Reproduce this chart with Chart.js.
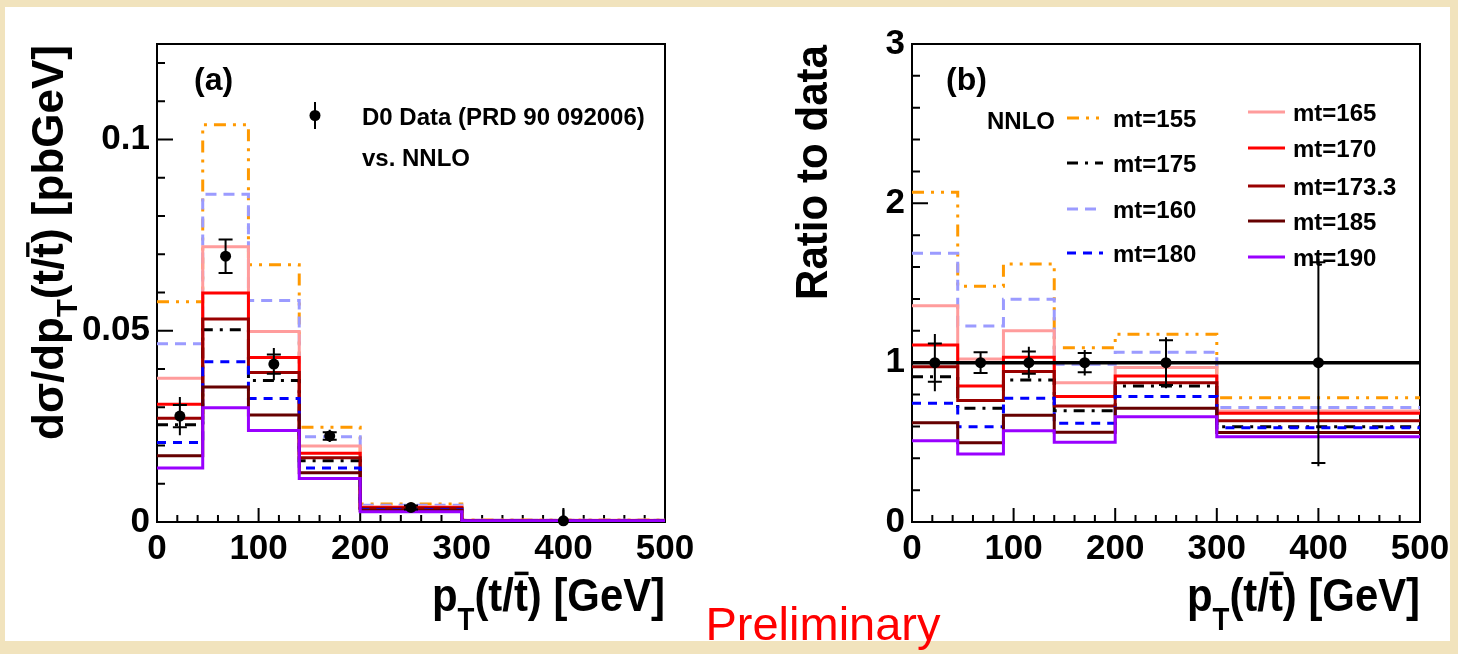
<!DOCTYPE html>
<html><head><meta charset="utf-8">
<script src="https://cdn.jsdelivr.net/npm/chart.js@4.4.1/dist/chart.umd.min.js"></script>
<style>
html,body{margin:0;padding:0;}
body{width:1458px;height:654px;background:#f1e3bd;position:relative;overflow:hidden;}
#panel{position:absolute;left:5px;top:7px;width:1445px;height:634px;background:#fff;}
canvas{position:absolute;left:0;top:0;}
</style></head><body>
<div id="panel"></div>
<canvas id="cA" width="1458" height="654"></canvas>
<canvas id="cB" width="1458" height="654"></canvas>
<script>
// ---------------- data ----------------
const binEdges = [0, 45, 90, 140, 200, 300, 500];
const dataCenters = [22.5, 67.5, 115, 170, 250, 400];

// panel (a): d sigma / dpT  [pb/GeV]
const dataXsec     = [0.0277, 0.0695, 0.0413, 0.0225, 0.0038, 0.0003];
const dataXsecStat = [0.0029, 0.0044, 0.0025, 0.0010, 0.0005, 0];
const dataXsecTot  = [0.0050, 0.0044, 0.0042, 0.0016, 0.0006, 0.0030];

const xsec155  = [0.0576, 0.1039, 0.0673, 0.0248, 0.0047, 0.00050];
const xsec160  = [0.0466, 0.0857, 0.0579, 0.0223, 0.0044, 0.00046];
const xsec165  = [0.0376, 0.0720, 0.0498, 0.0199, 0.0040, 0.00044];
const xsec170  = [0.0308, 0.0599, 0.0430, 0.0180, 0.0038, 0.00042];
const xsec1733 = [0.0271, 0.0531, 0.0391, 0.0168, 0.0036, 0.00040];
const xsec175  = [0.0254, 0.0503, 0.0370, 0.0160, 0.0035, 0.00038];
const xsec180  = [0.0208, 0.0419, 0.0323, 0.0141, 0.0032, 0.00036];
const xsec185  = [0.0173, 0.0353, 0.0280, 0.0129, 0.0030, 0.00034];
const xsec190  = [0.0141, 0.0299, 0.0239, 0.0114, 0.0027, 0.00032];

// panel (b): ratio to data
const dataRatio     = [1, 1, 1, 1, 1, 1];
const dataRatioStat = [0.12, 0.065, 0.07, 0.06, 0.14, 0.63];
const dataRatioTot  = [0.18, 0.065, 0.10, 0.08, 0.16, 0.65];

const ratio155  = [2.07, 1.48, 1.62, 1.094, 1.178, 0.780];
const ratio160  = [1.686, 1.23, 1.398, 0.99, 1.065, 0.718];
const ratio165  = [1.357, 1.023, 1.201, 0.874, 0.97, 0.697];
const ratio170  = [1.111, 0.854, 1.034, 0.787, 0.916, 0.682];
const ratio1733 = [0.975, 0.762, 0.944, 0.728, 0.874, 0.636];
const ratio175  = [0.912, 0.714, 0.891, 0.699, 0.854, 0.598];
const ratio180  = [0.745, 0.598, 0.776, 0.619, 0.787, 0.592];
const ratio185  = [0.623, 0.498, 0.670, 0.563, 0.714, 0.561];
const ratio190  = [0.510, 0.427, 0.573, 0.500, 0.661, 0.535];
const ratioRef  = [1, 1];
const ratioRefX = [0, 500];

const massLabels = ['mt=155','mt=160','mt=165','mt=170','mt=173.3','mt=175','mt=180','mt=185','mt=190'];

const xTickVals = [0, 100, 200, 300, 400, 500];
const xTickLabels = ['0','100','200','300','400','500'];
const yTickValsA = [0, 0.05, 0.1];
const yTickLabelsA = ['0','0.05','0.1'];
const yTickValsB = [0, 1, 2, 3];
const yTickLabelsB = ['0','1','2','3'];

// ---------------- styles ----------------
const FAM = '"Liberation Sans", Arial, Helvetica, sans-serif';
const massColors = ['#ff9900','#9b9bff','#ff9c9c','#ff0000','#990000','#000000','#0000ff','#660000','#9900ff'];
const massDashes = [[12,7,3,7,3,7],[11,7],[],[],[],[11,7,3,7],[9,7],[],[]];
// draw order: first = on top
const drawOrder = [8,7,6,4,5,3,2,1,0];

function stepPoints(vals){
  return binEdges.map((e,i)=>({x:e, y:vals[Math.min(i, vals.length-1)]}));
}

function histDatasets(series){
  return drawOrder.map(k=>({
    data: stepPoints(series[k]),
    borderColor: massColors[k],
    borderWidth: 3,
    borderDash: massDashes[k],
    borderCapStyle: 'butt',
    borderJoinStyle: 'miter',
    pointRadius: 0,
    stepped: true,
    fill: false
  }));
}

function dataDataset(vals){
  return {
    data: dataCenters.map((x,i)=>({x, y: vals[i]})),
    showLine: false,
    pointRadius: 5.5,
    pointBackgroundColor: '#000',
    pointBorderColor: '#000',
    pointBorderWidth: 0,
    clip: false
  };
}

// rich text: parts with subscripts and overbars
function layoutRich(ctx, parts, size){
  let x = 0; const items = [];
  for (const p of parts){
    const s = p.sub ? size*0.66 : size;
    ctx.font = `bold ${s}px ${FAM}`;
    const w = ctx.measureText(p.t).width;
    items.push(Object.assign({}, p, {s, x, w}));
    x += w;
  }
  return {items, width: x};
}
function drawRich(ctx, parts, size, ax, ay, targetW, rotate, subDrop){
  ctx.save();
  ctx.translate(ax, ay);
  if (rotate) ctx.rotate(-Math.PI/2);
  const r = layoutRich(ctx, parts, size);
  ctx.scale(targetW / r.width, 1);
  ctx.translate(-r.width, 0);
  ctx.fillStyle = '#000'; ctx.strokeStyle = '#000';
  ctx.textAlign = 'left'; ctx.textBaseline = 'alphabetic';
  for (const it of r.items){
    ctx.font = `bold ${it.s}px ${FAM}`;
    const dy = it.sub ? size*subDrop : 0;
    ctx.fillText(it.t, it.x, dy);
    if (it.bar){
      ctx.lineWidth = size*0.075;
      ctx.beginPath();
      ctx.moveTo(it.x + it.w*0.05, -size*0.80);
      ctx.lineTo(it.x + it.w*1.05, -size*0.80);
      ctx.stroke();
    }
  }
  ctx.restore();
}
const xTitleParts = [{t:'p'},{t:'T',sub:true},{t:'(t/'},{t:'t',bar:true},{t:') [GeV]'}];
const yTitlePartsA = [{t:'d\u03c3/dp'},{t:'T',sub:true},{t:'(t/'},{t:'t',bar:true},{t:') [pbGeV]'}];

function text(ctx, s, x, yc, size, opts){
  opts = opts || {};
  ctx.save();
  ctx.font = `${opts.weight||'bold'} ${size}px ${FAM}`;
  ctx.fillStyle = opts.color || '#000';
  ctx.textAlign = opts.align || 'left';
  ctx.textBaseline = 'alphabetic';
  ctx.fillText(s, x, yc + size*0.36);
  ctx.restore();
}

function sampleLine(ctx, k, x0, x1, y){
  ctx.save();
  ctx.strokeStyle = massColors[k];
  ctx.lineWidth = 3;
  ctx.setLineDash(massDashes[k]);
  ctx.beginPath(); ctx.moveTo(x0, y); ctx.lineTo(x1, y); ctx.stroke();
  ctx.restore();
}

// frame + inward ticks, error bars, decorations
function framePlugin(cfg){
  return {
    id: 'frame_' + cfg.id,
    beforeDatasetsDraw(chart){
      const {ctx, chartArea: a, scales:{x, y}} = chart;
      ctx.save();
      ctx.strokeStyle = '#000'; ctx.lineWidth = 2;
      ctx.strokeRect(a.left, a.top, a.right - a.left, a.bottom - a.top);
      ctx.beginPath();
      for (let v = 0; v <= 500 + 1e-9; v += cfg.xMinor){
        const px = x.getPixelForValue(v);
        const major = Math.abs(v/100 - Math.round(v/100)) < 1e-6;
        ctx.moveTo(px, a.bottom); ctx.lineTo(px, a.bottom - (major ? 14 : 7));
      }
      const n = Math.round(cfg.yMax / cfg.yMinor);
      for (let i = 0; i <= n; i++){
        const v = i * cfg.yMinor;
        if (v > cfg.yMax + 1e-9) break;
        const py = y.getPixelForValue(v);
        const r = v / cfg.yMajor;
        const major = Math.abs(r - Math.round(r)) < 1e-6;
        ctx.moveTo(a.left, py); ctx.lineTo(a.left + (major ? 16 : 8), py);
      }
      ctx.stroke();
      ctx.restore();
    },
    afterDatasetsDraw(chart){
      const {ctx, chartArea: a, scales:{x, y}} = chart;
      ctx.save();
      ctx.strokeStyle = '#000'; ctx.lineWidth = 2;
      ctx.beginPath();
      cfg.dataY.forEach((v, i) => {
        const px = x.getPixelForValue(dataCenters[i]);
        const clampY = p => Math.max(a.top, Math.min(a.bottom, p));
        const t1 = clampY(y.getPixelForValue(v + cfg.tot[i]));
        const t2 = clampY(y.getPixelForValue(v - cfg.tot[i]));
        ctx.moveTo(px, t1); ctx.lineTo(px, t2);
        if (cfg.stat[i] > 0){
          [v + cfg.stat[i], v - cfg.stat[i]].forEach(c => {
            const pc = y.getPixelForValue(c);
            if (pc >= a.top && pc <= a.bottom){ ctx.moveTo(px - 7, pc); ctx.lineTo(px + 7, pc); }
          });
        }
      });
      ctx.stroke();
      ctx.restore();
    },
    afterDraw(chart){ cfg.decor(chart.ctx, chart); }
  };
}

function makeChart(id, cfg){
  return new Chart(document.getElementById(id), {
    type: 'line',
    data: { datasets: cfg.datasets },
    options: {
      responsive: false, animation: false, devicePixelRatio: 1, events: [],
      layout: { padding: { left: cfg.padL, right: cfg.padR, top: 44, bottom: 0 } },
      plugins: { legend: { display: false }, tooltip: { enabled: false } },
      scales: {
        x: {
          type: 'linear', min: 0, max: 500,
          grid: { display: false, drawTicks: false }, border: { display: false },
          ticks: { font: { family: FAM, size: 35, weight: 'bold' }, color: '#000', padding: 6, maxRotation: 0, autoSkip: false,
                   callback: v => xTickLabels[xTickVals.indexOf(v)] },
          afterBuildTicks: s => { s.ticks = xTickVals.map(v => ({value: v})); },
          afterFit: s => { s.height = 132; }
        },
        y: {
          type: 'linear', min: 0, max: cfg.yMax,
          grid: { display: false, drawTicks: false }, border: { display: false },
          ticks: { font: { family: FAM, size: 35, weight: 'bold' }, color: '#000', padding: 7, autoSkip: false,
                   callback: v => cfg.yLabels[cfg.yVals.indexOf(v)] },
          afterBuildTicks: s => { s.ticks = cfg.yVals.map(v => ({value: v})); },
          afterFit: s => { s.width = 120; }
        }
      }
    },
    plugins: [framePlugin(cfg)]
  });
}

// ---------- panel (a) ----------
const seriesA = [xsec155, xsec160, xsec165, xsec170, xsec1733, xsec175, xsec180, xsec185, xsec190];
makeChart('cA', {
  id: 'a', padL: 37, padR: 1458 - 665, yMax: 0.125, yVals: yTickValsA, yLabels: yTickLabelsA,
  xMinor: 20, yMinor: 0.01, yMajor: 0.05,
  dataY: dataXsec, stat: dataXsecStat, tot: dataXsecTot,
  datasets: [dataDataset(dataXsec)].concat(histDatasets(seriesA)),
  decor(ctx){
    text(ctx, '(a)', 194, 78, 32);
    // data legend entry
    ctx.save();
    ctx.strokeStyle = '#000'; ctx.lineWidth = 2;
    ctx.beginPath(); ctx.moveTo(315, 102); ctx.lineTo(315, 129); ctx.stroke();
    ctx.fillStyle = '#000';
    ctx.beginPath(); ctx.arc(315, 115.5, 5.5, 0, Math.PI*2); ctx.fill();
    ctx.restore();
    text(ctx, 'D0 Data (PRD 90 092006)', 362, 116, 24);
    text(ctx, 'vs. NNLO', 362, 157, 24);
    drawRich(ctx, yTitlePartsA, 44, 63, 45, 395, true, 0.32);
    drawRich(ctx, xTitleParts, 47, 665, 611, 233, false, 0.40);
  }
});

// ---------- panel (b) ----------
const seriesB = [ratio155, ratio160, ratio165, ratio170, ratio1733, ratio175, ratio180, ratio185, ratio190];
const refLine = {
  data: ratioRefX.map((x, i) => ({x, y: ratioRef[i]})),
  borderColor: '#000', borderWidth: 3.5, pointRadius: 0, fill: false
};
makeChart('cB', {
  id: 'b', padL: 792, padR: 1458 - 1420, yMax: 3, yVals: yTickValsB, yLabels: yTickLabelsB,
  xMinor: 20, yMinor: 0.2, yMajor: 1,
  dataY: dataRatio, stat: dataRatioStat, tot: dataRatioTot,
  datasets: [dataDataset(dataRatio), refLine].concat(histDatasets(seriesB)),
  decor(ctx){
    text(ctx, '(b)', 946, 78, 32);
    text(ctx, 'NNLO', 987, 120, 24);
    // legend column 1: 155, 175, 160, 180
    const col1 = [[0,118],[5,163],[1,209],[6,253]];
    col1.forEach(([k, yc]) => { sampleLine(ctx, k, 1067, 1103, yc); text(ctx, massLabels[k], 1113, yc, 24); });
    const col2 = [[2,112],[3,148],[4,186],[7,221],[8,257]];
    col2.forEach(([k, yc]) => { sampleLine(ctx, k, 1248, 1285, yc); text(ctx, massLabels[k], 1293, yc, 24); });
    drawRich(ctx, [{t:'Ratio to data'}], 45, 827, 45, 255, true, 0);
    drawRich(ctx, xTitleParts, 47, 1420, 611, 233, false, 0.40);
    // Preliminary
    ctx.save();
    ctx.font = `47px ${FAM}`;
    ctx.fillStyle = '#ff0000';
    ctx.textAlign = 'center'; ctx.textBaseline = 'alphabetic';
    ctx.fillText('Preliminary', 823, 640);
    ctx.restore();
  }
});
</script>
</body></html>
